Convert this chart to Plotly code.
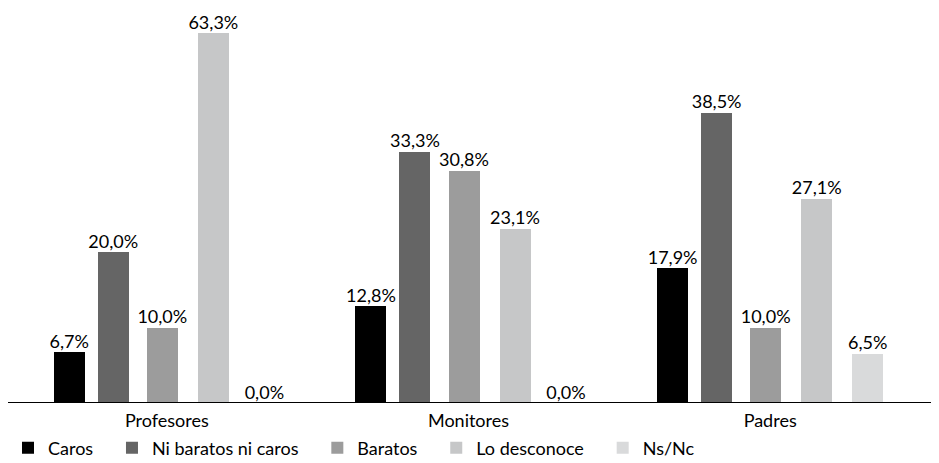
import plotly.graph_objects as go

categories = ["Profesores", "Monitores", "Padres"]
series_names = ["Caros", "Ni baratos ni caros", "Baratos", "Lo desconoce", "Ns/Nc"]
caros = [6.7, 12.8, 17.9]
ni_baratos_ni_caros = [20.0, 33.3, 38.5]
baratos = [10.0, 30.8, 10.0]
lo_desconoce = [63.3, 23.1, 27.1]
ns_nc = [0.0, 0.0, 6.5]

series_values = [caros, ni_baratos_ni_caros, baratos, lo_desconoce, ns_nc]
colors = ["#000000", "#656565", "#9c9c9c", "#c6c7c8", "#d9dadb"]
offsets = [-0.3748, -0.2289, -0.0663, 0.1028, 0.272]
bar_width = 0.1028
y_max = 49.07

FONT = "Lato"
PAD = "\u00a0" * 3  # extra spacing between legend entries

fig = go.Figure()
xs = list(range(len(categories)))
for name, vals, col, off in zip(series_names, series_values, colors, offsets):
    fig.add_trace(go.Bar(
        x=xs, y=vals, name=name + PAD, marker=dict(color=col, line=dict(width=0)),
        offset=off, width=bar_width, hoverinfo="skip",
    ))

# value labels
for vals, off in zip(series_values, offsets):
    fig.add_trace(go.Scatter(
        x=[i + off + bar_width / 2 for i in xs],
        y=[min(v, y_max) for v in vals],
        text=[f"{v:.1f}%".replace(".", ",") for v in vals],
        mode="text", textposition="top center",
        textfont=dict(family=FONT, size=18, color="#000000"),
        showlegend=False, hoverinfo="skip", cliponaxis=False,
    ))

fig.add_shape(type="line", xref="paper", yref="y", x0=-0.0099, x1=1.03, y0=0, y1=0,
              line=dict(color="#000000", width=2))

fig.update_layout(
    width=939, height=463,
    margin=dict(l=8, r=26, t=25, b=68, autoexpand=False),
    plot_bgcolor="white", paper_bgcolor="white",
    font=dict(family=FONT, size=18, color="#000000"),
    showlegend=True,
    legend=dict(orientation="h", xref="container", yref="container",
                x=0, xanchor="left", y=1 - 440 / 463, yanchor="middle",
                font=dict(family=FONT, size=18), traceorder="normal",
                itemclick=False, bgcolor="rgba(0,0,0,0)"),
    xaxis=dict(tickmode="array", tickvals=xs, ticktext=categories, range=[-0.5, 2.5],
               showgrid=False, zeroline=False, showline=False, ticks="",
               tickfont=dict(family=FONT, size=18), automargin=False,
               ticklabelstandoff=5),
    yaxis=dict(range=[0, y_max], showgrid=False, zeroline=False, showline=False,
               showticklabels=False, ticks="", automargin=False),
    bargap=0,
)

fig.write_html("out.html")
